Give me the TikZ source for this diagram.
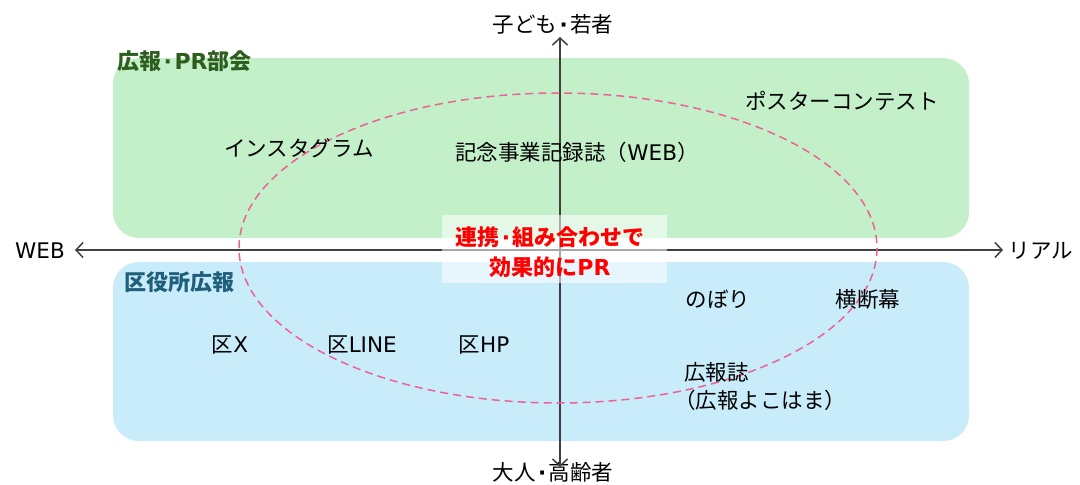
\documentclass[tikz,border=0pt]{standalone}
\usepackage{fontspec}
\setmainfont{Noto Sans CJK JP}
\newfontfamily\lat{DejaVu Sans}
\newcommand{\nd}{\kern2.5pt{\lat\bfseries ·}\kern2.5pt}
\usetikzlibrary{arrows.meta}
\definecolor{grn}{RGB}{195,240,200}
\definecolor{blu}{RGB}{201,236,250}
\definecolor{dgrn}{RGB}{46,94,30}
\definecolor{dblu}{RGB}{31,95,122}
\definecolor{pnk}{RGB}{240,96,150}
\definecolor{axis}{RGB}{64,64,64}
\tikzset{
  lbl/.style={font=\fontsize{21.5}{26}\selectfont, inner sep=0pt, text=black},
  grp/.style={font=\fontsize{22}{26}\selectfont\bfseries, inner sep=0pt, anchor=west},
  panel/.style={rounded corners=26pt, draw=none},
  ax/.style={draw=axis, line width=1.5pt, -{Straight Barb[length=7pt,width=15pt]}},
}
\begin{document}
\begin{tikzpicture}[x=1pt,y=-1pt]
\useasboundingbox (0,0) rectangle (1080,485);
\fill[white] (0,0) rectangle (1080,485);
\fill[grn, panel] (113,58) rectangle (969,238);
\fill[blu, panel] (113,262) rectangle (969,441);
\node[grp, text=dgrn] (g1) at (117,61) {広報\nd{\lat PR}部会};
\node[grp, text=dblu] (g2) at (124,282) {区役所広報};
\coordinate (c) at (560,250);
\node[lbl] (top) at (553,24) {子ども\nd 若者};
\node[lbl] (bot) at (553,472) {大人\nd 高齢者};
\node[lbl] (web) at (40,251) {\lat WEB};
\node[lbl] (real) at (1041,251) {リアル};
\coordinate (tA) at (560,37);
\coordinate (bA) at (560,467);
\coordinate (lA) at (75,250);
\coordinate (rA) at (1003,250);
\draw[ax] (c) -- (tA);
\draw[ax] (c) -- (bA);
\draw[ax] (c) -- (lA);
\draw[ax] (c) -- (rA);
\draw[pnk, line width=1.5pt, dash pattern=on 8pt off 5pt] (558,248) ellipse [x radius=319, y radius=155];
\node[lbl] (poster) at (842,101) {ポスターコンテスト};
\node[lbl] (insta) at (299,148) {インスタグラム};
\node[lbl] (kinen) at (577,152) {記念事業記録誌（{\lat WEB}）};
\node[lbl] (nobori) at (718,299) {のぼり};
\node[lbl] (oudan) at (868,299) {横断幕};
\node[lbl] (kux) at (230,345) {区{\lat X}};
\node[lbl] (kuline) at (362,345) {区{\lat LINE}};
\node[lbl] (kuhp) at (484,345) {区{\lat HP}};
\node[lbl, anchor=west] (kouhou) at (684,372) {広報誌};
\node[lbl, anchor=west] (yoko) at (674,400) {（広報よこはま）};
\fill[white, opacity=0.55] (442,215) rectangle (667,283);
\node[font=\fontsize{22}{30}\selectfont\bfseries, text=red, align=center, inner sep=0pt] (center) at (550,252) {連携\nd 組み合わせで\\効果的に{\lat PR}};
\end{tikzpicture}
\end{document}
